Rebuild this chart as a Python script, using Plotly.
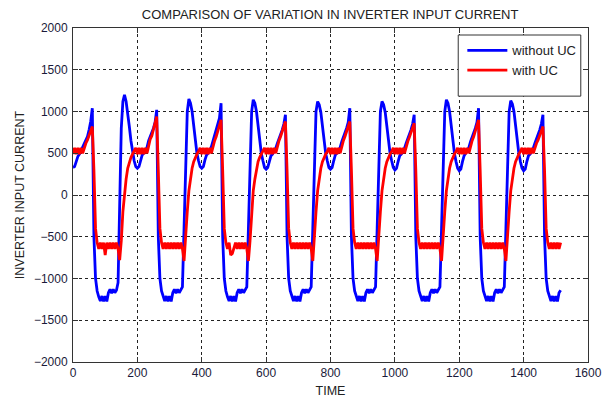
import numpy as np
import plotly.graph_objects as go

# Sampled every 5 time units; one list per ~200-unit cycle
blue_c0 = [330, 340, 400, 460, 490, 530, 560, 600, 640, 700, 780, 880, 1040, -500, -1000, -1150, -1220, -1270, -1210, -1275, -1210, -1275, -1170, -1130, -1175, -1130, -1170, -1140, -1050, -150, 800, 1120, 1200, 1120, 990, 820, 650, 500, 410, 340]
blue_c1 = [320, 340, 420, 480, 500, 530, 570, 650, 700, 740, 800, 870, 1020, -500, -1000, -1150, -1220, -1270, -1210, -1275, -1210, -1275, -1170, -1130, -1175, -1130, -1170, -1140, -1100, -400, 500, 1000, 1150, 1100, 1000, 820, 640, 500, 410, 340]
blue_c2 = [320, 340, 420, 480, 500, 530, 580, 650, 700, 760, 830, 920, 1100, -500, -1000, -1150, -1220, -1270, -1210, -1275, -1210, -1275, -1170, -1130, -1175, -1130, -1170, -1140, -1100, -400, 500, 1000, 1140, 1100, 1000, 820, 640, 500, 410, 330]
blue_c3 = [310, 330, 400, 470, 490, 520, 560, 620, 670, 710, 780, 850, 960, -500, -1000, -1150, -1220, -1270, -1210, -1275, -1210, -1275, -1170, -1130, -1175, -1130, -1170, -1140, -1100, -400, 500, 1000, 1120, 1080, 990, 820, 640, 500, 410, 330]
blue_c4 = [310, 330, 410, 480, 500, 530, 570, 640, 690, 730, 800, 870, 1040, -500, -1000, -1150, -1220, -1270, -1210, -1275, -1210, -1275, -1170, -1130, -1175, -1130, -1170, -1140, -1100, -400, 500, 1000, 1120, 1080, 990, 820, 640, 500, 410, 330]
blue_c5 = [300, 320, 400, 470, 490, 520, 560, 620, 670, 710, 780, 850, 960, -500, -1000, -1150, -1220, -1270, -1210, -1275, -1210, -1275, -1170, -1130, -1175, -1130, -1170, -1140, -1100, -400, 500, 1000, 1140, 1100, 1000, 820, 640, 500, 400, 320]
blue_c6 = [290, 310, 400, 470, 500, 530, 570, 640, 690, 730, 800, 870, 1040, -500, -1000, -1150, -1220, -1270, -1210, -1275, -1210, -1275, -1170, -1130, -1175, -1130, -1170, -1140, -1100, -400, 500, 1000, 1130, 1090, 1000, 820, 640, 500, 400, 320]
blue_c7 = [290, 310, 400, 470, 490, 520, 560, 620, 670, 710, 780, 850, 960, -500, -1000, -1150, -1220, -1270, -1210, -1275, -1210, -1275, -1170, -1140]

red_c0 = [490, 565, 490, 565, 490, 565, 500, 570, 620, 660, 720, 780, 820, 300, -400, -570, -645, -570, -645, -570, -720, -570, -645, -570, -645, -570, -645, -570, -645, -780, -550, -200, 50, 190, 320, 400, 450, 490, 520, 565]
red_c1 = [490, 565, 490, 565, 490, 565, 500, 590, 670, 710, 780, 860, 940, 300, -400, -570, -645, -570, -645, -570, -645, -570, -645, -570, -645, -570, -645, -570, -645, -790, -550, -200, 50, 190, 320, 400, 450, 490, 520, 565]
red_c2 = [490, 565, 490, 565, 490, 565, 500, 580, 650, 700, 760, 830, 900, 300, -400, -570, -645, -570, -720, -700, -645, -570, -645, -570, -645, -570, -645, -570, -645, -790, -550, -200, 50, 190, 320, 400, 450, 490, 520, 565]
red_c3 = [490, 565, 490, 565, 490, 565, 500, 580, 650, 700, 760, 830, 880, 300, -400, -570, -645, -570, -645, -570, -645, -570, -645, -570, -645, -570, -645, -570, -645, -790, -550, -200, 50, 190, 320, 400, 450, 490, 520, 565]
red_c4 = [490, 565, 490, 565, 490, 565, 500, 580, 650, 700, 760, 830, 880, 300, -400, -570, -645, -570, -645, -570, -645, -570, -645, -570, -645, -570, -645, -570, -645, -790, -550, -200, 50, 190, 320, 400, 450, 490, 520, 565]
red_c5 = [490, 565, 490, 565, 490, 565, 500, 580, 640, 690, 750, 810, 860, 300, -400, -570, -645, -570, -645, -570, -645, -570, -645, -570, -645, -570, -645, -570, -645, -790, -550, -200, 50, 190, 320, 400, 450, 490, 520, 565]
red_c6 = [490, 565, 490, 565, 490, 565, 500, 580, 650, 700, 760, 840, 900, 300, -400, -570, -645, -570, -645, -570, -645, -570, -645, -570, -645, -570, -645, -570, -645, -790, -550, -200, 50, 190, 320, 400, 450, 490, 520, 565]
red_c7 = [490, 565, 490, 565, 490, 565, 500, 570, 620, 660, 720, 780, 820, 300, -400, -570, -645, -570, -645, -570, -645, -570, -645, -570]

SAMPLE_STEP = 5
x_ticks = [0, 200, 400, 600, 800, 1000, 1200, 1400, 1600]
y_ticks = [-2000, -1500, -1000, -500, 0, 500, 1000, 1500, 2000]

blue = blue_c0 + blue_c1 + blue_c2 + blue_c3 + blue_c4 + blue_c5 + blue_c6 + blue_c7
red = red_c0 + red_c1 + red_c2 + red_c3 + red_c4 + red_c5 + red_c6 + red_c7
t = np.arange(len(blue)) * SAMPLE_STEP

fig = go.Figure()
fig.add_trace(go.Scatter(x=t, y=blue, mode="lines", name="without UC",
                         line=dict(color="#0000ff", width=2.8)))
fig.add_trace(go.Scatter(x=t, y=red, mode="lines", name="with UC",
                         line=dict(color="#ff0000", width=2.8)))

axis_common = dict(showline=True, linecolor="#333", linewidth=1, mirror="ticks",
                   ticks="inside", ticklen=5, tickcolor="#333", automargin=False,
                   showgrid=True, gridcolor="#222", gridwidth=1, griddash="3px,3px",
                   zeroline=False, tickfont=dict(size=12, color="#1a1a3a"))

fig.update_layout(
    width=608, height=400,
    margin=dict(l=73, r=20, t=28, b=38),
    paper_bgcolor="white", plot_bgcolor="white",
    font=dict(family="Liberation Sans, Arial", size=12, color="#222"),
    title=dict(text="COMPARISON OF VARIATION IN INVERTER INPUT CURRENT",
               x=0.543, xanchor="center", y=0.963, yanchor="middle",
               font=dict(size=13, color="#222")),
    xaxis=dict(range=[0, 1600], tickvals=x_ticks, ticklabelstandoff=0,
               title=dict(text="TIME", standoff=6, font=dict(size=12.5)), **axis_common),
    yaxis=dict(range=[-2000, 2000], tickvals=y_ticks, ticklabelstandoff=2,
               title=dict(text="INVERTER INPUT CURRENT", standoff=6, font=dict(size=12.5)), **axis_common),
    showlegend=True,
    legend=dict(x=0.756, y=0.978, xanchor="left", yanchor="top",
                bgcolor="rgba(0,0,0,0)", borderwidth=0, font=dict(size=13, color="#222"),
                itemwidth=40, tracegroupgap=0),
    shapes=[dict(type="rect", xref="paper", yref="paper", x0=0.748, x1=0.986, y0=0.796, y1=0.979,
                 line=dict(color="#333", width=1), fillcolor="white", layer="above")],
)

fig.write_html("out.html")
